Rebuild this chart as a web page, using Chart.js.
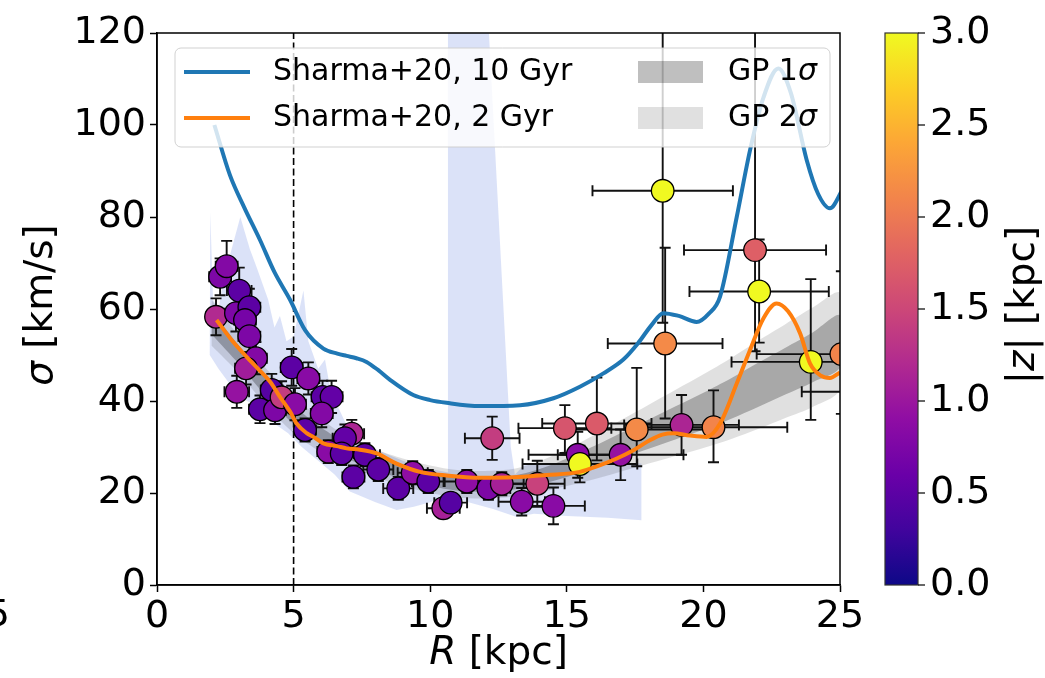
<!DOCTYPE html>
<html lang="en">
<head>
<meta charset="UTF-8" />
<title>Velocity dispersion vs R</title>
<script src="https://cdn.jsdelivr.net/npm/chart.js"></script>
<style>
  html, body { margin: 0; padding: 0; background: #fff; }
  #wrap { width: 1045px; height: 678px; }
</style>
</head>
<body>
<div id="wrap"><canvas id="sigmaChart" width="1045" height="678"></canvas></div>
<script>
// ---- data ----
// measured points: R [kpc], sigma [km/s], |z| [kpc], errors
const ptR = [2.16, 2.31, 2.55, 3.01, 2.89, 3.38, 3.22, 3.38, 3.62, 3.26, 2.92, 3.77, 4.20, 4.32, 4.56, 5.05, 4.93, 5.54, 6.06, 6.39,
             6.03, 5.42, 7.13, 6.88, 6.27, 6.76, 7.61, 7.19, 8.10, 8.83, 9.36, 9.93, 10.48, 10.75, 11.34, 12.13, 12.62, 12.27, 13.35, 13.92,
             14.51, 14.93, 15.40, 15.48, 16.10, 16.97, 17.56, 19.20, 20.37, 18.60, 18.51, 21.89, 22.04, 23.93, 25.05, 26.50];
const ptSigma = [58.3, 67.0, 69.3, 64.0, 59.1, 60.4, 57.6, 54.1, 49.3, 47.1, 42.0, 38.2, 42.4, 38.0, 40.8, 39.3, 47.3, 44.9, 40.9, 40.9,
                 37.3, 33.7, 32.9, 31.9, 29.0, 28.6, 28.3, 23.5, 25.1, 21.0, 24.4, 22.5, 16.7, 17.9, 22.5, 21.0, 22.0, 31.9, 18.1, 22.0,
                 17.2, 34.1, 28.3, 26.3, 35.1, 28.3, 33.8, 34.8, 34.3, 52.5, 85.7, 72.8, 63.8, 48.5, 50.2, 42.0];
const ptZ = [1.20, 0.75, 0.80, 0.50, 0.75, 0.50, 0.70, 0.75, 0.80, 1.05, 0.95, 0.50, 0.45, 0.75, 1.40, 0.85, 0.50, 0.85, 0.50, 0.55,
             0.80, 0.50, 1.15, 0.55, 0.85, 0.50, 0.50, 0.50, 0.50, 0.50, 0.90, 0.50, 1.10, 0.45, 0.90, 0.75, 1.10, 1.40, 0.85, 1.45,
             0.85, 1.65, 0.85, 3.00, 1.70, 0.95, 2.15, 1.15, 2.10, 2.15, 3.00, 1.75, 3.00, 3.00, 2.10, 2.00];
const ptXErr = [0.35, 0.40, 0.40, 0.45, 0.40, 0.40, 0.40, 0.40, 0.40, 0.40, 0.45, 0.40, 0.40, 0.40, 0.40, 0.40, 0.40, 0.40, 0.40, 0.40,
                0.40, 0.40, 0.45, 0.45, 0.40, 0.45, 0.55, 0.40, 0.55, 0.55, 0.55, 0.60, 0.60, 0.60, 0.85, 0.80, 0.80, 1.00, 0.85, 1.00,
                1.15, 1.70, 1.80, 2.10, 2.00, 2.30, 2.50, 2.10, 2.70, 2.10, 2.57, 2.60, 2.55, 2.90, 3.10, 2.90];
const ptYErrLo = [4, 4, 4, 4, 4, 4, 3.5, 3.5, 3.5, 3.5, 3.5, 3, 3.5, 3, 3.5, 3.5, 4, 3.5, 3.5, 3.5,
                  3, 2.5, 3, 3, 2.5, 2.5, 2.5, 2.5, 2.5, 2.5, 2.5, 2.5, 2, 2, 2.5, 2.5, 2.5, 4.7, 3, 5,
                  4, 5.4, 5, 4, 8, 5.5, 8, 6.5, 7.6, 16.3, 28.7, 22, 11.1, 12.6, 13, 8];
const ptYErrHi = [4, 4, 5.5, 5, 4, 4, 3.5, 3.5, 3.5, 3.5, 3.5, 3, 3.5, 3, 3.5, 3.5, 4, 3.5, 3.5, 3.5,
                  3, 2.5, 3, 3, 2.5, 2.5, 2.5, 2.5, 2.5, 2.5, 2.5, 2.5, 2, 2, 2.5, 2.5, 2.5, 4.7, 3, 5,
                  4, 5, 5, 4, 10, 5.5, 13.4, 6.5, 8, 20.8, 45, 50, 11.3, 18, 18, 8];

// Sharma+20 model curves
const sharma10R = [2.1, 2.67, 3.2, 3.77, 4.3, 4.87, 5.42, 6.09, 6.6, 6.94, 7.3, 7.67, 8.1, 8.53, 9.38, 10.0, 10.6, 11.82, 13.29, 14.51,
                   15.48, 16.34, 17.07, 17.6, 18.1, 18.53, 19.1, 19.75, 20.2, 20.61, 21.22, 21.71, 22.2, 22.74, 23.2, 23.78, 24.2, 24.63, 25.1];
const sharma10S = [100, 89.1, 82, 75, 68, 62, 55.4, 51.4, 50.3, 49.8, 49.3, 48.5, 46.7, 44.6, 41.3, 40.2, 39.6, 38.9, 39.1, 40.6,
                   43.1, 46, 49, 52.5, 56.5, 59.1, 58.5, 57.2, 59, 62.7, 80, 94.6, 106, 112.3, 107, 92.4, 85, 81.9, 86];
const sharma2R = [2.18, 2.7, 3.28, 3.7, 4.14, 4.5, 4.87, 5.11, 5.48, 5.72, 6.09, 6.58, 6.94, 7.43, 8.04, 8.77, 9.63, 10.6, 11.82, 13.04,
                  14.26, 15.48, 16.2, 16.83, 17.44, 18.05, 18.5, 18.9, 19.5, 20.12, 20.61, 21.22, 21.7, 22.2, 22.68, 23.1, 23.54, 23.9, 24.3, 24.63, 25.0];
const sharma2S = [57.6, 53.5, 49.6, 47, 44.2, 40.9, 37.7, 35.1, 33, 32.2, 30.8, 30.2, 29.7, 29.4, 28.6, 26.4, 24.6, 23.8, 23.3, 23.4,
                  23.9, 24.6, 26, 27.5, 29.3, 31.5, 32.7, 33, 32.5, 32.2, 35.1, 43.8, 51, 58, 61.2, 59.5, 54.7, 48.2, 45.5, 45, 46.2];

// GP bands
const gpR    = [2, 3, 4, 5, 6, 7, 8, 9, 10, 11, 12, 13, 14, 15, 16, 17, 18, 19, 20, 21, 22, 23, 24, 25];
const gp1Hi  = [59.5, 52, 45, 39, 34.3, 30.6, 28, 26, 24.5, 23.5, 23.3, 23.7, 25.2, 27.5, 30.2, 33.1, 36, 38.9, 41.8, 44.9, 48.3, 51.6, 54.9, 58.6];
const gp1Lo  = [54.5, 48, 41, 35, 30.7, 27.4, 25, 23, 21.5, 20.5, 20.3, 20.7, 21.8, 23.5, 25.4, 27.5, 29.6, 31.7, 33.8, 36.1, 38.7, 41.4, 44.1, 47.4];
const gp2Hi  = [62, 54, 47, 41, 36.1, 32.2, 29.5, 27.5, 26, 25, 24.8, 25.2, 26.9, 29.5, 32.6, 35.9, 39.2, 42.5, 45.8, 49.3, 53.1, 56.7, 60.3, 63.4];
const gp2Lo  = [52, 46, 39, 33, 28.9, 25.8, 23.5, 21.5, 20, 19, 18.8, 19.2, 20.1, 21.5, 23, 24.7, 26.4, 28.1, 29.8, 31.7, 33.9, 36.3, 38.7, 42.6];

// pale blue envelope (outline, closed)
const envR = [1.93, 1.95, 2.05, 2.25, 2.5, 3.05, 3.4, 3.65, 4.07, 4.3, 4.5, 4.74, 5.0, 5.36, 5.54, 5.9, 6.15, 6.33, 6.6, 7.0,
              7.5, 8.0, 8.6, 9.2, 9.8, 10.62, 10.65, 12.06, 12.95, 13.1, 13.5, 15.5, 17.73,
              17.73, 16.5, 15.0, 13.8, 13.17, 12.3, 11.4, 10.62, 10.0, 9.4, 8.77, 8.0, 7.06, 6.5, 5.9, 5.3, 4.8, 4.2, 3.6, 3.0, 2.5, 2.25, 1.93];
const envS = [50, 81, 62, 60, 68, 80, 73, 69, 62, 56, 58.5, 53, 54, 64, 53, 47, 49, 43, 39, 34,
              31, 29.5, 28, 26.5, 25.5, 24.5, 130, 130, 30, 24, 26.4, 26.5, 26.4,
              14.1, 14.6, 15, 15.5, 14.8, 16.5, 18, 19.5, 18, 17, 16.3, 18, 20.3, 24, 27, 30, 33, 35.5, 39, 41, 45, 47, 50];

const vlineR = [5, 5];
const vlineS = [0, 130];

const xTicks = [0, 5, 10, 15, 20, 25];
const yTicks = [0, 20, 40, 60, 80, 100, 120];
const zTicks = [0, 0.5, 1.0, 1.5, 2.0, 2.5, 3.0];

// ---- styling helpers ----
const FONT = '"DejaVu Sans", "Liberation Sans", sans-serif';
const PLASMA = ['#0d0887', '#41049d', '#6a00a8', '#8f0da4', '#b12a90', '#cc4778',
                '#e16462', '#f2844b', '#fca636', '#fcce25', '#f0f921'];
const Z_MAX = 3;

function hexRgb(h) {
  return [parseInt(h.slice(1, 3), 16), parseInt(h.slice(3, 5), 16), parseInt(h.slice(5, 7), 16)];
}
function plasma(z) {
  const t = Math.min(Math.max(z / Z_MAX, 0), 1) * 10;
  const i = Math.min(Math.floor(t), 9), f = t - i;
  const a = hexRgb(PLASMA[i]), b = hexRgb(PLASMA[i + 1]);
  const c = a.map((v, k) => Math.round(v + (b[k] - v) * f));
  return 'rgb(' + c.join(',') + ')';
}
function xy(xs, ys) { return xs.map((v, i) => ({ x: v, y: ys[i] })); }
function band(xs, hi, lo) { return xy(xs.concat(xs.slice().reverse()), hi.concat(lo.slice().reverse())); }

function drawParts(ctx, parts, size, cx, cy, angle) {
  ctx.save();
  ctx.translate(cx, cy);
  ctx.rotate(angle);
  ctx.textBaseline = 'middle';
  ctx.textAlign = 'left';
  let w = 0;
  parts.forEach(p => { ctx.font = (p[1] ? 'italic ' : '') + size + 'px ' + FONT; w += ctx.measureText(p[0]).width; });
  let x = -w / 2;
  ctx.fillStyle = '#000';
  parts.forEach(p => {
    ctx.font = (p[1] ? 'italic ' : '') + size + 'px ' + FONT;
    ctx.fillText(p[0], x, 0);
    x += ctx.measureText(p[0]).width;
  });
  ctx.restore();
}

// ---- plugins ----
const CAP = 5.5;
const errorBars = {
  id: 'errorBars',
  beforeDatasetDraw(chart, args) {
    if (chart.data.datasets[args.index].id !== 'points') return;
    const { ctx, chartArea: a, scales: { x, y } } = chart;
    ctx.save();
    ctx.beginPath();
    ctx.rect(a.left, a.top, a.right - a.left, a.bottom - a.top);
    ctx.clip();
    ctx.strokeStyle = '#111';
    ctx.lineWidth = 1.9;
    ptR.forEach((r, i) => {
      const s = ptSigma[i];
      const px = x.getPixelForValue(r), py = y.getPixelForValue(s);
      const x0 = x.getPixelForValue(r - ptXErr[i]), x1 = x.getPixelForValue(r + ptXErr[i]);
      const y0 = y.getPixelForValue(s - ptYErrLo[i]), y1 = y.getPixelForValue(s + ptYErrHi[i]);
      ctx.beginPath();
      ctx.moveTo(x0, py); ctx.lineTo(x1, py);
      ctx.moveTo(px, y0); ctx.lineTo(px, y1);
      ctx.moveTo(x0, py - CAP); ctx.lineTo(x0, py + CAP);
      ctx.moveTo(x1, py - CAP); ctx.lineTo(x1, py + CAP);
      ctx.moveTo(px - CAP, y0); ctx.lineTo(px + CAP, y0);
      ctx.moveTo(px - CAP, y1); ctx.lineTo(px + CAP, y1);
      ctx.stroke();
    });
    ctx.restore();
  }
};

const frameAndLegend = {
  id: 'frameAndLegend',
  afterDatasetsDraw(chart) {
    const { ctx, chartArea: a } = chart;
    ctx.save();
    // spines
    ctx.strokeStyle = '#000';
    ctx.lineWidth = 1.5;
    ctx.strokeRect(a.left, a.top, a.right - a.left, a.bottom - a.top);

    // legend box
    const bx = 175, by = 48, bw = 655, bh = 99, r = 6;
    ctx.beginPath();
    ctx.moveTo(bx + r, by);
    ctx.arcTo(bx + bw, by, bx + bw, by + bh, r);
    ctx.arcTo(bx + bw, by + bh, bx, by + bh, r);
    ctx.arcTo(bx, by + bh, bx, by, r);
    ctx.arcTo(bx, by, bx + bw, by, r);
    ctx.closePath();
    ctx.fillStyle = 'rgba(255,255,255,0.8)';
    ctx.fill();
    ctx.strokeStyle = 'rgba(204,204,204,0.9)';
    ctx.lineWidth = 1;
    ctx.stroke();

    const rows = [72, 118];
    ctx.lineWidth = 4;
    ctx.strokeStyle = '#1f77b4';
    ctx.beginPath(); ctx.moveTo(184, rows[0]); ctx.lineTo(250, rows[0]); ctx.stroke();
    ctx.strokeStyle = '#ff7f0e';
    ctx.beginPath(); ctx.moveTo(184, rows[1]); ctx.lineTo(250, rows[1]); ctx.stroke();

    ctx.fillStyle = 'rgba(0,0,0,0.25)';
    ctx.fillRect(638, rows[0] - 11, 65, 22);
    ctx.fillStyle = 'rgba(0,0,0,0.12)';
    ctx.fillRect(638, rows[1] - 11, 65, 22);

    ctx.fillStyle = '#000';
    ctx.textBaseline = 'middle';
    ctx.textAlign = 'left';
    ctx.font = '30px ' + FONT;
    ctx.fillText('Sharma+20, 10 Gyr', 273, rows[0]);
    ctx.fillText('Sharma+20, 2 Gyr', 273, rows[1]);
    [['GP 1', rows[0]], ['GP 2', rows[1]]].forEach(([t, yy]) => {
      ctx.font = '30px ' + FONT;
      ctx.fillText(t, 728, yy);
      const w = ctx.measureText(t).width;
      ctx.font = 'italic 30px ' + FONT;
      ctx.fillText('σ', 728 + w, yy);
    });
    ctx.restore();
  }
};

const colorbarAndTitles = {
  id: 'colorbarAndTitles',
  afterDraw(chart) {
    const { ctx, chartArea: a, scales } = chart;
    const zs = scales.zbar;
    const cx0 = 885, cx1 = 918;
    const top = zs.getPixelForValue(Z_MAX), bot = zs.getPixelForValue(0);
    ctx.save();
    const g = ctx.createLinearGradient(0, bot, 0, top);
    PLASMA.forEach((c, i) => g.addColorStop(i / (PLASMA.length - 1), c));
    ctx.fillStyle = g;
    ctx.fillRect(cx0, top, cx1 - cx0, bot - top);
    ctx.strokeStyle = '#333';
    ctx.lineWidth = 1.2;
    ctx.strokeRect(cx0, top, cx1 - cx0, bot - top);
    ctx.fillStyle = '#000';
    ctx.strokeStyle = '#000';
    ctx.font = '38px ' + FONT;
    ctx.textAlign = 'left';
    ctx.textBaseline = 'middle';
    zTicks.forEach(v => {
      const py = zs.getPixelForValue(v);
      ctx.beginPath(); ctx.moveTo(cx1, py); ctx.lineTo(cx1 + 7, py); ctx.stroke();
      ctx.fillText(v.toFixed(1), cx1 + 12, py);
    });
    // clipped tick label of the neighbouring panel
    ctx.textAlign = 'right';
    ctx.textBaseline = 'top';
    ctx.fillText('5', 10, a.bottom + 12);
    ctx.restore();

    const midY = (a.top + a.bottom) / 2;
    drawParts(ctx, [['σ', true], [' [km/s]', false]], 39, 42, midY - 4, -Math.PI / 2);
    drawParts(ctx, [['R', true], [' [kpc]', false]], 39, (a.left + a.right) / 2, 654, 0);
    drawParts(ctx, [['|', false], ['z', true], ['| [kpc]', false]], 39, 1024, midY - 4, -Math.PI / 2);
  }
};

// ---- chart ----
const datasets = [
  { id: 'sharma10', data: xy(sharma10R, sharma10S), borderColor: '#1f77b4', borderWidth: 4, pointRadius: 0,
    cubicInterpolationMode: 'monotone', fill: false, order: 1, clip: 0 },
  { id: 'sharma2', data: xy(sharma2R, sharma2S), borderColor: '#ff7f0e', borderWidth: 4, pointRadius: 0,
    cubicInterpolationMode: 'monotone', fill: false, order: 2, clip: 0 },
  { id: 'points', data: xy(ptR, ptSigma), showLine: false, pointRadius: 11.3, pointBorderWidth: 1.3,
    pointBackgroundColor: ptZ.map(plasma), pointBorderColor: '#000', order: 3, clip: 0 },
  { id: 'vline', data: xy(vlineR, vlineS), borderColor: '#000', borderWidth: 1.6, borderDash: [7, 3.5],
    pointRadius: 0, fill: false, order: 4, clip: 0 },
  { id: 'gp1', data: band(gpR, gp1Hi, gp1Lo), borderWidth: 0, borderColor: 'rgba(0,0,0,0)', pointRadius: 0,
    backgroundColor: 'rgba(0,0,0,0.25)', fill: 'shape', tension: 0.3, order: 5, clip: 0 },
  { id: 'gp2', data: band(gpR, gp2Hi, gp2Lo), borderWidth: 0, borderColor: 'rgba(0,0,0,0)', pointRadius: 0,
    backgroundColor: 'rgba(0,0,0,0.12)', fill: 'shape', tension: 0.3, order: 6, clip: 0 },
  { id: 'envelope', data: xy(envR, envS), borderWidth: 0, borderColor: 'rgba(0,0,0,0)', pointRadius: 0,
    backgroundColor: 'rgba(176,190,240,0.45)', fill: 'shape', tension: 0, order: 7, clip: 0 }
];

new Chart(document.getElementById('sigmaChart'), {
  type: 'line',
  data: { datasets },
  options: {
    responsive: false,
    animation: false,
    events: [],
    layout: { padding: { left: 0, right: 205, top: 33, bottom: 0 } },
    plugins: { legend: { display: false }, tooltip: { enabled: false }, title: { display: false } },
    scales: {
      x: {
        type: 'linear', min: 0, max: 25,
        afterBuildTicks: s => { s.ticks = xTicks.map(v => ({ value: v })); },
        afterFit: s => { s.height = 93; },
        ticks: { color: '#000', font: { family: FONT, size: 38 }, padding: 2, maxRotation: 0 },
        grid: { drawOnChartArea: false, drawTicks: true, tickLength: 7, tickColor: '#000', tickWidth: 1.5 },
        border: { color: '#000', width: 1.5 }
      },
      y: {
        type: 'linear', min: 0, max: 120,
        afterBuildTicks: s => { s.ticks = yTicks.map(v => ({ value: v })); },
        afterFit: s => { s.width = 157; },
        ticks: { color: '#000', font: { family: FONT, size: 38 }, padding: 4 },
        grid: { drawOnChartArea: false, drawTicks: true, tickLength: 7, tickColor: '#000', tickWidth: 1.5 },
        border: { color: '#000', width: 1.5 }
      },
      zbar: { type: 'linear', position: 'right', min: 0, max: Z_MAX, display: false }
    }
  },
  plugins: [errorBars, frameAndLegend, colorbarAndTitles]
});
</script>
</body>
</html>
